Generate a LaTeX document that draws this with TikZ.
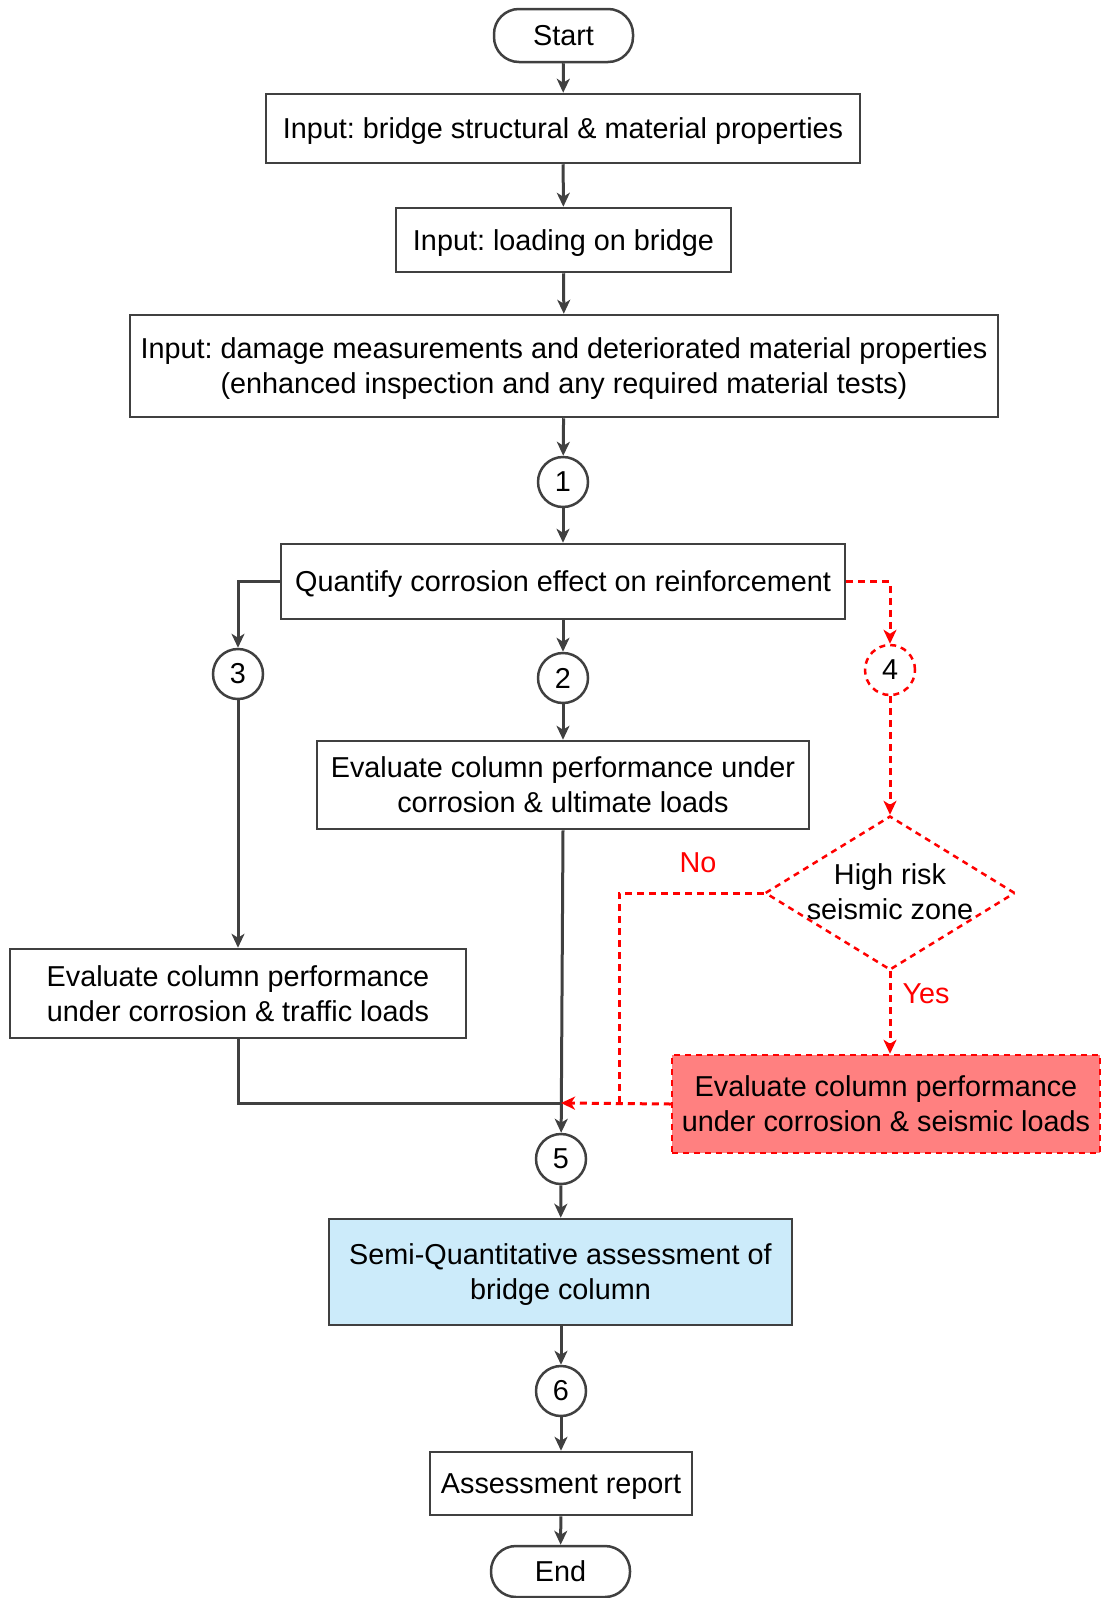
\documentclass[tikz,border=0pt]{standalone}
\usepackage{fontspec}
\setmainfont{Liberation Sans}
\usetikzlibrary{arrows.meta,shapes.geometric}
\definecolor{edge}{HTML}{404040}
\definecolor{alarm}{HTML}{FF0000}
\definecolor{seisfill}{HTML}{FF8080}
\definecolor{assessfill}{HTML}{CCEBFA}
\frenchspacing
\begin{document}
\begin{tikzpicture}[x=1pt,y=-1pt,
  font=\fontsize{28.8}{35}\selectfont,
  box/.style={draw=edge,line width=2.5pt,rectangle,align=center,inner sep=0pt,text depth=0pt},
  term/.style={box,rounded corners=25pt},
  num/.style={draw=edge,line width=2.5pt,circle,minimum size=50pt,inner sep=0pt},
  altnum/.style={num,draw=alarm,dash pattern=on 6pt off 5pt},
  decision/.style={diamond,draw=alarm,line width=2.5pt,dash pattern=on 6pt off 5pt,
    inner sep=0pt,minimum width=250pt,minimum height=154pt},
  flow/.style={draw=edge,line width=3pt,-{Stealth[length=14pt,width=13pt,inset=4pt]}},
  plain/.style={draw=edge,line width=3pt},
  alt/.style={draw=alarm,line width=3pt,dash pattern=on 7pt off 5pt},
  altflow/.style={alt,-{Stealth[length=14pt,width=13pt,inset=4pt]}},
  tag/.style={text=alarm},
]
\useasboundingbox (0,0) rectangle (1102,1598);

% main column
\node[term,minimum width=139pt,minimum height=53pt] (start) at (563.5,35.5) {Start};
\node[box,minimum width=594pt,minimum height=69pt] (b1) at (563,128.5)
  {Input: bridge structural \& material properties};
\node[box,minimum width=335pt,minimum height=64pt] (b2) at (563.5,240)
  {Input: loading on bridge};
\node[box,minimum width=868pt,minimum height=102pt] (b3) at (564,366)
  {Input: damage measurements and deteriorated material properties\\
   (enhanced inspection and any required material tests)};
\node[num] (c1) at (563,482) {1};
\node[box,minimum width=564pt,minimum height=75pt] (b4) at (563,581.5)
  {Quantify corrosion effect on reinforcement};
\node[num] (c3) at (238,674) {3};
\node[num] (c2) at (563,678) {2};
\node[altnum] (c4) at (890,670) {4};
\node[box,minimum width=492pt,minimum height=88pt] (b5) at (563,785)
  {Evaluate column performance under\\corrosion \& ultimate loads};
\node[decision,label={[align=center,yshift=1pt]center:High risk\\seismic zone}] (risk) at (890,893) {};
\node[box,minimum width=456pt,minimum height=89pt] (b6) at (238,993.5)
  {Evaluate column performance\\under corrosion \& traffic loads};
\node[box,draw=alarm,fill=seisfill,dash pattern=on 6pt off 5pt,
  minimum width=428pt,minimum height=98pt] (seis) at (886,1104)
  {Evaluate column performance\\under corrosion \& seismic loads};
\node[num] (c5) at (561,1159) {5};
\node[box,fill=assessfill,minimum width=463pt,minimum height=106pt] (b7) at (560.5,1272)
  {Semi-Quantitative assessment of\\bridge column};
\node[num] (c6) at (561,1391) {6};
\node[box,minimum width=262pt,minimum height=63pt] (b8) at (561,1483.5)
  {Assessment report};
\node[term,minimum width=139pt,minimum height=51pt] (end) at (560.5,1571.5) {End};

\coordinate (join) at (561,1103);
\coordinate (nodrop) at (619,1103);

% solid connectors
\draw[flow] (start) -- (b1);
\draw[flow] (b1) -- (b2);
\draw[flow] (b2) -- (b3);
\draw[flow] (b3) -- (c1);
\draw[flow] (c1) -- (b4);
\draw[flow] (b4) -- (c2);
\draw[flow] (c2) -- (b5);
\draw[flow] (b4.west) -| (c3);
\draw[flow] (c3) -- (b6);
\draw[plain] (b6.south) |- (join);
\draw[flow] (b5.south) -- (c5);
\draw[flow] (c5) -- (b7);
\draw[flow] (b7.south -| c6) -- (c6);
\draw[flow] (c6) -- (b8);
\draw[flow] (b8) -- (end);

% seismic branch
\draw[altflow] (b4.east) -| (c4);
\draw[altflow] (c4) -- (risk);
\draw[altflow] (risk.south) -- (risk.south |- seis.north);
\draw[alt] (risk.west) -| (nodrop);
\draw[altflow] (seis.west) -- (join);
\node[tag] at (698,863) {No};
\node[tag] at (926,994) {Yes};
\end{tikzpicture}
\end{document}
